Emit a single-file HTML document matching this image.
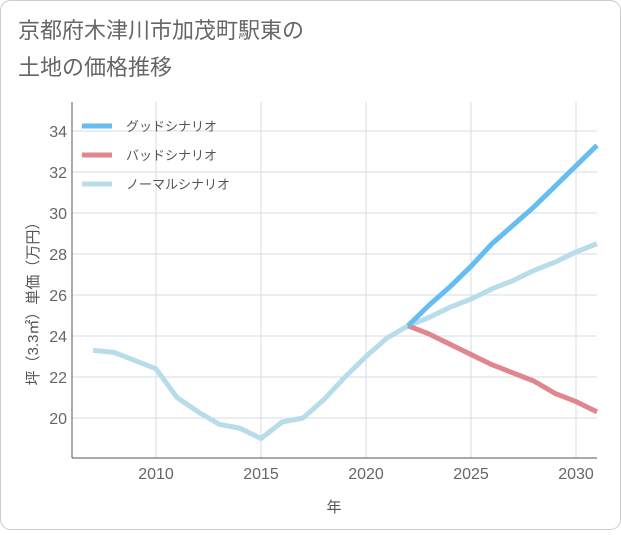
<!DOCTYPE html>
<html><head><meta charset="utf-8"><style>
body{margin:0;background:#fff;}
svg text{font-family:"Liberation Sans","Noto Sans CJK JP",sans-serif;}
</style></head><body>
<svg width="621" height="530">
<rect x="0.5" y="0.5" width="620" height="529" rx="10" fill="#fff" stroke="#ccc"/>
<text x="18" y="38" font-size="22" fill="#666">京都府木津川市加茂町駅東の</text>
<text x="18" y="75" font-size="22" fill="#666">土地の価格推移</text>
<g id="grid"></g>
<line x1="72" y1="102" x2="72" y2="458" stroke="#555"/>
<line x1="72" y1="458" x2="597" y2="458" stroke="#555"/>
<g id="marks"></g>
<g id="legend"></g>
<text x="38" y="300" font-size="15" fill="#555" text-anchor="middle" transform="rotate(-90 38 300)">坪（3.3㎡）単価（万円）</text>
<text x="334" y="512" font-size="15" fill="#555" text-anchor="middle">年</text>
</svg>
<script>
const years=[2007,2008,2009,2010,2011,2012,2013,2014,2015,2016,2017,2018,2019,2020,2021,2022,2023,2024,2025,2026,2027,2028,2029,2030,2031];
const normal=[23.3,23.2,22.8,22.4,21.0,20.3,19.7,19.5,19.0,19.8,20.0,20.9,22.0,23.0,23.9,24.5,24.9,25.4,25.8,26.3,26.7,27.2,27.6,28.1,28.5];
const goodYears=[2022,2023,2024,2025,2026,2027,2028,2029,2030,2031];
const good=[24.5,25.5,26.4,27.4,28.5,29.4,30.3,31.3,32.3,33.3];
const bad=[24.5,24.1,23.6,23.1,22.6,22.2,21.8,21.2,20.8,20.3];
const xTicks=[2010,2015,2020,2025,2030];
const yTicks=[20,22,24,26,28,30,32,34];
const X=y=>156+(y-2010)*21, Y=v=>418-(v-20)*20.5;
const NS="http://www.w3.org/2000/svg";
function mk(p,t,a){const e=document.createElementNS(NS,t);for(const k in a)e.setAttribute(k,a[k]);p.appendChild(e);return e;}
const g=document.getElementById('grid');
xTicks.forEach(t=>{const l=mk(g,'line',{x1:X(t),x2:X(t),y1:102,y2:458,stroke:'#d5dde5'});

const tx=mk(g,'text',{x:X(t),y:479,'font-size':16,fill:'#666','text-anchor':'middle'});tx.textContent=t;
});
yTicks.forEach(t=>{const l=mk(g,'line',{x1:72,x2:597,y1:Y(t),y2:Y(t),stroke:'#d5dde5'});

const tx=mk(g,'text',{x:67,y:Y(t)+6,'font-size':16,fill:'#666','text-anchor':'end'});tx.textContent=t;
});
const m=document.getElementById('marks');
function line(xs,vs,c,n){const p=mk(m,'polyline',{points:xs.map((y,i)=>X(y)+','+Y(vs[i])).join(' '),fill:'none',stroke:c,'stroke-width':5,'stroke-linejoin':'round'});
}
line(years,normal,'#b8dcea','normal-line');
line(goodYears,bad,'#e0868f','bad-line');
line(goodYears,good,'#66bdf2','good-line');
const lg=document.getElementById('legend');
[['グッドシナリオ','#66bdf2'],['バッドシナリオ','#e0868f'],['ノーマルシナリオ','#b8dcea']].forEach((d,i)=>{
const y=126+i*29;const l=mk(lg,'line',{x1:82,x2:112,y1:y,y2:y,stroke:d[1],'stroke-width':5});

const t=mk(lg,'text',{x:126,y:y+5,'font-size':13,fill:'#555'});t.textContent=d[0];
});
</script>
</body></html>
